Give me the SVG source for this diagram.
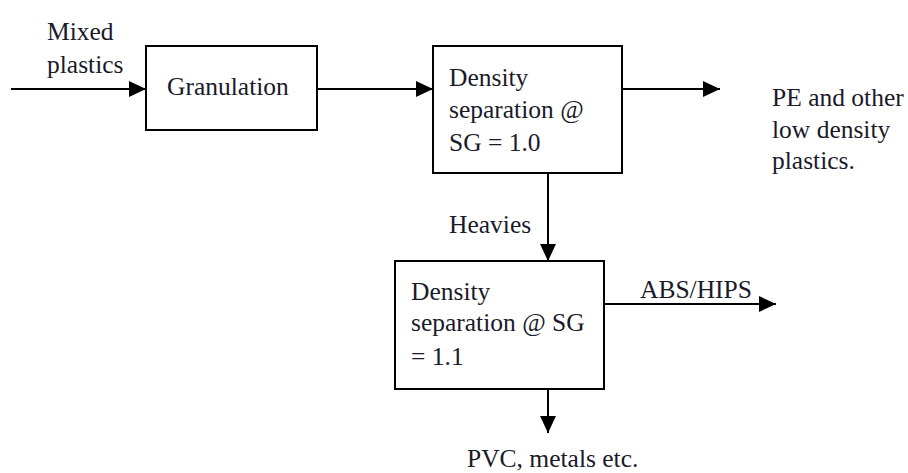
<svg xmlns="http://www.w3.org/2000/svg" width="908" height="473" viewBox="0 0 908 473">
<defs>
<marker id="ah" markerUnits="userSpaceOnUse" markerWidth="18" markerHeight="18" refX="17" refY="8" orient="auto">
<path d="M0,0 L17,8 L0,16 Z" fill="#000"/>
</marker>
</defs>
<rect width="908" height="473" fill="#fff"/>
<g id="connectors" fill="none" stroke="#000" stroke-width="2">
<line x1="11" y1="89" x2="146" y2="89" marker-end="url(#ah)"/>
<line x1="317" y1="89" x2="433" y2="89" marker-end="url(#ah)"/>
<line x1="622" y1="89" x2="720" y2="89" marker-end="url(#ah)"/>
<line x1="548" y1="173" x2="548" y2="261" marker-end="url(#ah)"/>
<line x1="604" y1="304" x2="776" y2="304" marker-end="url(#ah)"/>
<line x1="548" y1="389" x2="548" y2="433" marker-end="url(#ah)"/>
</g>
<g id="label-mixed">
<text x="47" y="40" font-family="Liberation Serif" font-size="25.5" fill="#1a1a2a" style="font-family:'Liberation Serif'">Mixed</text>
<text x="47" y="73" font-family="Liberation Serif" font-size="25.5" fill="#1a1a2a" style="font-family:'Liberation Serif'">plastics</text>
</g>
<g id="granulation">
<rect x="146" y="46" width="171" height="84" fill="#fff" stroke="#000" stroke-width="2"/>
<text x="167" y="95" font-family="Liberation Serif" font-size="25.5" fill="#1a1a2a" style="font-family:'Liberation Serif'">Granulation</text>
</g>
<g id="density1">
<rect x="433" y="46" width="189" height="127" fill="#fff" stroke="#000" stroke-width="2"/>
<text x="449" y="86" font-family="Liberation Serif" font-size="25.5" fill="#1a1a2a" style="font-family:'Liberation Serif'">Density</text>
<text x="449" y="118" font-family="Liberation Serif" font-size="25.5" fill="#1a1a2a" style="font-family:'Liberation Serif'">separation @</text>
<text x="449" y="151" font-family="Liberation Serif" font-size="25.5" fill="#1a1a2a" style="font-family:'Liberation Serif'">SG = 1.0</text>
</g>
<g id="label-pe">
<text x="772" y="106" font-family="Liberation Serif" font-size="25.5" fill="#1a1a2a" style="font-family:'Liberation Serif'">PE and other</text>
<text x="772" y="138" font-family="Liberation Serif" font-size="25.5" fill="#1a1a2a" style="font-family:'Liberation Serif'">low density</text>
<text x="772" y="169" font-family="Liberation Serif" font-size="25.5" fill="#1a1a2a" style="font-family:'Liberation Serif'">plastics.</text>
</g>
<g id="label-heavies">
<text x="449" y="233" font-family="Liberation Serif" font-size="25.5" fill="#1a1a2a" style="font-family:'Liberation Serif'">Heavies</text>
</g>
<g id="density2">
<rect x="395" y="261" width="209" height="128" fill="#fff" stroke="#000" stroke-width="2"/>
<text x="411" y="300" font-family="Liberation Serif" font-size="25.5" fill="#1a1a2a" style="font-family:'Liberation Serif'">Density</text>
<text x="411" y="331" font-family="Liberation Serif" font-size="25.5" fill="#1a1a2a" style="font-family:'Liberation Serif'">separation @ SG</text>
<text x="411" y="365" font-family="Liberation Serif" font-size="25.5" fill="#1a1a2a" style="font-family:'Liberation Serif'">= 1.1</text>
</g>
<g id="label-abs">
<text x="640" y="298" font-family="Liberation Serif" font-size="25.5" fill="#1a1a2a" style="font-family:'Liberation Serif'">ABS/HIPS</text>
</g>
<g id="label-pvc">
<text x="467" y="467" font-family="Liberation Serif" font-size="25.5" fill="#1a1a2a" style="font-family:'Liberation Serif'">PVC, metals etc.</text>
</g>
</svg>
